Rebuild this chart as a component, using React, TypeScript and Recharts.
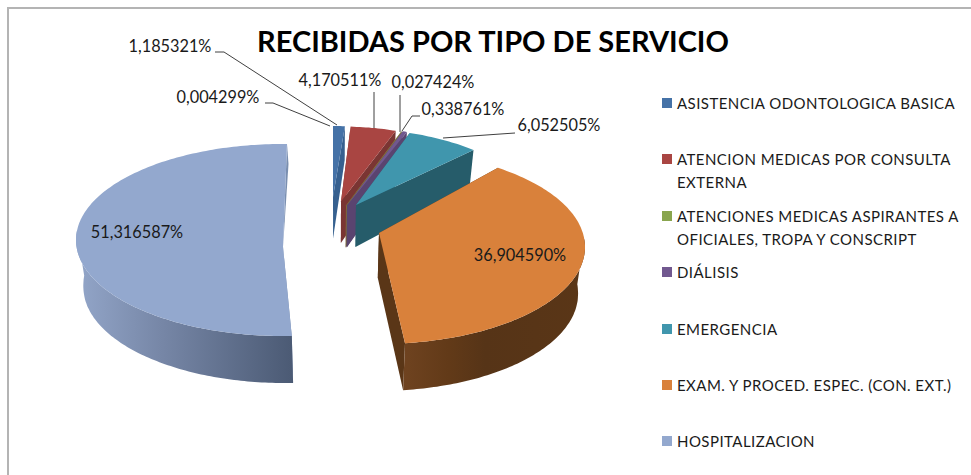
import React from "react";
import { PieChart, Pie, Legend } from "recharts";

const categories = [
  "",
  "ASISTENCIA ODONTOLOGICA BASICA",
  "ATENCION MEDICAS POR CONSULTA EXTERNA",
  "ATENCIONES MEDICAS ASPIRANTES A OFICIALES, TROPA Y CONSCRIPT",
  "DIÁLISIS",
  "EMERGENCIA",
  "EXAM. Y PROCED. ESPEC. (CON. EXT.)",
  "HOSPITALIZACION",
];
const values = [0.004299, 1.185321, 4.170511, 0.027424, 0.338761, 6.052505, 36.90459, 51.316587];
const colors = ["#4572a7", "#4572a7", "#a94542", "#89a54e", "#71588f", "#4096ad", "#d9813b", "#93a8ce"];
const wallColors = ["#36608f", "#36608f", "#7a3533", "#7d6a3a", "#5a4470", "#265c6a", "#5a3617", "#7a8fb0"];

const tableData = categories.map((name, i) => ({ name, value: values[i], fill: colors[i] }));

// exploded 3D look: where each slice sits relative to the pie centre
const CENTER = { x: 331, y: 225 };
const VANISH_X = 337;
const sliceLook = [
  { dx: 2, dy: -2, rx: 160, ry: 97, apexY: -26, twist: -2.3, twistEnd: -2.3 },
  { dx: 2, dy: -2, rx: 160, ry: 97, apexY: -26, twist: -2.3, twistEnd: -2.3 },
  { dx: 10, dy: -1.5, rx: 185, ry: 97, apexY: -22, twist: -3.6, twistEnd: -4.4 },
  { dx: 15, dy: -0.5, rx: 200, ry: 97, apexY: -19, twist: -5.5, twistEnd: -5.5 },
  { dx: 16, dy: -0.5, rx: 200, ry: 97, apexY: -19, twist: -5.5, twistEnd: -5.5 },
  { dx: 25, dy: 2, rx: 190, ry: 98, apexY: -22, twist: -6.5, twistEnd: -6.5 },
  { dx: 48, dy: 22, rx: 206, ry: 97, apexY: -14, twist: -9.4, twistEnd: -4.8 },
  { dx: -48, dy: 15, rx: 207, ry: 96, apexY: 7, twist: 0, twistEnd: -1.2, thinBack: true },
];

const labelLook = [
  { x: 218, y: 103, line: [[265, 103], [273, 103], [330, 126]] },
  { x: 170, y: 52, line: [[215, 52], [224, 52], [337, 125]] },
  { x: 340, y: 86, line: [[374, 92], [374, 128]] },
  { x: 433, y: 88, line: [[400, 95], [400, 132]] },
  { x: 463, y: 115, line: [[420, 116], [412, 116], [402, 131]] },
  { x: 559, y: 131, line: [[515, 133], [443, 138]] },
  { x: 520, y: 261, line: [] },
  { x: 137, y: 238, line: [] },
];

const depthAt = (y: number) => Math.min(47, 36 + (y - 147) * 0.103);
const lower = (p: number[]) => [VANISH_X + (p[0] - VANISH_X) * 0.972, p[1] + depthAt(p[1])];
const toPath = (pts: number[][]) =>
  "M" + pts.map((p) => p[0].toFixed(1) + "," + p[1].toFixed(1)).join("L") + "Z";

function Slice3D(props: any) {
  const { startAngle, endAngle, cx, cy, fill } = props;
  const i = tableData.findIndex((d) => d.name === props.name);
  const look = sliceLook[i];
  const ox = cx + look.dx;
  const oy = cy + look.dy;
  const from = 90 - startAngle + look.twist;
  const to = 90 - endAngle + look.twistEnd;
  const steps = Math.max(1, Math.ceil(Math.abs(to - from)));
  const arc: number[][] = [];
  const front: number[][] = [];
  for (let s = 0; s <= steps; s++) {
    const t = ((from + ((to - from) * s) / steps) * Math.PI) / 180;
    const p = [ox + look.rx * Math.sin(t), oy - look.ry * Math.cos(t)];
    arc.push(p);
    // only the near half of the rim can be seen
    if (Math.cos(t) < 0.1) front.push(p);
  }
  const apex = [ox, oy + look.apexY];
  const first = arc[0];
  const last = arc[arc.length - 1];
  // the big slice only shows a hairline of its back cut
  const backWall = look.thinBack
    ? [apex, last, [last[0] + 1.5, last[1] + 20]]
    : [apex, last, lower(last), lower(apex)];
  return (
    <g>
      <path d={toPath([apex, first, lower(first), lower(apex)])} fill={wallColors[i]} />
      <path d={toPath(backWall)} fill={wallColors[i]} />
      {front.length > 1 && (
        <path
          d={toPath([...front, ...front.map(lower).reverse()])}
          fill={i >= 6 ? `url(#wall${i})` : wallColors[i]}
        />
      )}
      <path d={toPath([apex, ...arc])} fill={fill} />
    </g>
  );
}

function SliceLabel(props: any) {
  const look = labelLook[props.index];
  const text = values[props.index].toFixed(6).replace(".", ",") + "%";
  return (
    <g>
      {look.line.length > 0 && (
        <polyline
          points={look.line.map((p) => p.join(",")).join(" ")}
          fill="none"
          stroke="#404040"
          strokeWidth={1}
        />
      )}
      <text x={look.x} y={look.y} textAnchor="middle" fontFamily="Lato" fontSize={16.3} fill="#1a1a1a">
        {text}
      </text>
    </g>
  );
}

function SideLegend(props: any) {
  const items = (props.payload || []).filter((p: any) => p.value);
  return (
    <div
      style={{ fontFamily: "Lato", fontSize: 15, letterSpacing: 0.45, lineHeight: "23px", color: "#1a1a1a" }}
    >
      {items.map((p: any) => (
        <div key={p.value} style={{ height: 56.4, position: "relative", paddingLeft: 15 }}>
          <span
            style={{ position: "absolute", left: 0, top: 6, width: 10, height: 10, background: p.color }}
          />
          {p.value}
        </div>
      ))}
    </div>
  );
}

export default function App() {
  return (
    <div style={{ position: "absolute", left: 0, top: 0, width: 971, height: 475, background: "#fff" }}>
      <PieChart width={971} height={475} margin={{ top: 0, right: 0, bottom: 0, left: 0 }}>
        <defs>
          <linearGradient id="wall6" x1="0" y1="0" x2="1" y2="0">
            <stop offset="0%" stopColor="#6f4320" />
            <stop offset="25%" stopColor="#623a18" />
            <stop offset="45%" stopColor="#563417" />
            <stop offset="100%" stopColor="#5a3617" />
          </linearGradient>
          <linearGradient id="wall7" x1="0" y1="0" x2="1" y2="0">
            <stop offset="0%" stopColor="#93a6c9" />
            <stop offset="40%" stopColor="#7686a6" />
            <stop offset="100%" stopColor="#4b5a74" />
          </linearGradient>
        </defs>
        <line x1={7} y1={8} x2={971} y2={8} stroke="#b4b4b4" strokeWidth={2} />
        <line x1={8} y1={8} x2={8} y2={475} stroke="#b4b4b4" strokeWidth={2} />
        <text
          x={493}
          y={52}
          textAnchor="middle"
          fontFamily="Lato"
          fontWeight={700}
          fontSize={29}
          fill="#000"
        >
          RECIBIDAS POR TIPO DE SERVICIO
        </text>
        <Pie
          data={tableData}
          dataKey="value"
          nameKey="name"
          cx={CENTER.x}
          cy={CENTER.y}
          outerRadius={100}
          startAngle={87.7}
          endAngle={-272.3}
          stroke="none"
          shape={Slice3D}
          label={SliceLabel}
          labelLine={false}
          isAnimationActive={false}
        />
        <Legend
          layout="vertical"
          content={SideLegend}
          wrapperStyle={{ position: "absolute", left: 662, top: 92, width: 305, bottom: "auto", right: "auto" }}
        />
      </PieChart>
    </div>
  );
}
